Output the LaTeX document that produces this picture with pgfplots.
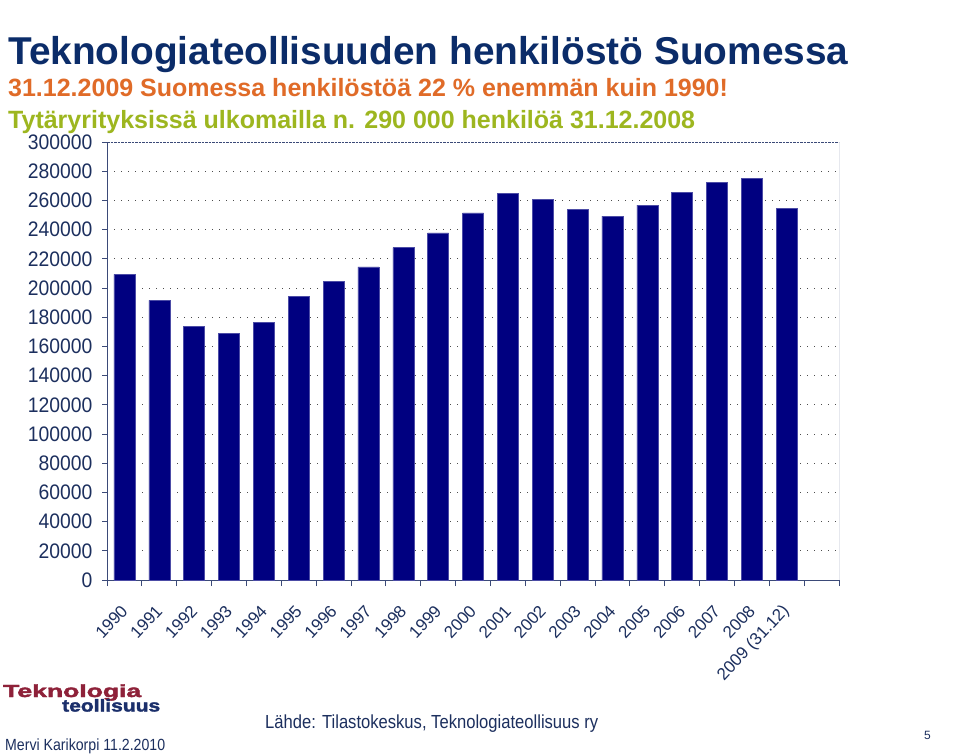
\documentclass[border=0pt]{standalone}
\usepackage{fontspec}
\setmainfont{Liberation Sans}
\newfontfamily\logofont[FakeBold=2]{Liberation Sans Bold}
\newfontfamily\ynarrow[FakeStretch=0.92]{Liberation Sans}
\usepackage{graphicx}
\usepackage{pgfplots}
\pgfplotsset{compat=1.18}
\definecolor{titleblue}{HTML}{0B2C69}
\definecolor{orangeT}{HTML}{E06B28}
\definecolor{greenT}{HTML}{9DB61F}
\definecolor{barblue}{HTML}{000080}
\definecolor{axisblue}{HTML}{3B4A78}
\definecolor{labblue}{HTML}{1C2F5E}
\definecolor{logored}{HTML}{8E2139}
\definecolor{logoblue}{HTML}{1B2F6B}
\begin{document}
\begin{tikzpicture}[x=1pt,y=1pt]
\useasboundingbox (0,0) rectangle (960,755);
\fill[white] (0,0) rectangle (960,755);
\node[anchor=base west, inner sep=0, text=titleblue, font=\fontsize{38.8}{40}\selectfont\bfseries] at (8,690) {Teknologiateollisuuden henkilöstö Suomessa};
\node[anchor=base west, inner sep=0, text=orangeT, font=\fontsize{25}{26}\selectfont\bfseries] at (8,658) {31.12.2009 Suomessa henkilöstöä 22 \% enemmän kuin 1990!};
\node[anchor=base west, inner sep=0, text=greenT, font=\fontsize{25}{26}\selectfont\bfseries] at (8,626) {Tytäryrityksissä ulkomailla n. 290 000 henkilöä 31.12.2008};
\begin{axis}[
  at={(107pt,175pt)}, anchor=south west, scale only axis,
  width=732pt, height=438pt,
  xmin=-0.5, xmax=20.5, ymin=0, ymax=300000,
  ybar, bar width=21pt,
  ytick={0,20000,...,300000},
  scaled y ticks=false,
  yticklabel style={/pgf/number format/fixed, /pgf/number format/1000 sep={}, font=\ynarrow\fontsize{21}{21}\selectfont, text=labblue, xshift=-6pt},
  /pgf/number format/assume math mode=true,
  ymajorgrids,
  grid style={dash pattern=on 1.4pt off 5.6pt, color=black!70, line width=0.9pt},
  axis x line*=bottom, axis y line*=left,
  axis line style={axisblue, line width=0.8pt},
  tick align=outside,
  major tick length=5pt, minor tick length=6pt,
  tick style={axisblue, line width=0.8pt},
  xtick={0,...,19},
  xticklabels={1990,1991,1992,1993,1994,1995,1996,1997,1998,1999,2000,2001,2002,2003,2004,2005,2006,2007,2008,2009 (31.12)},
  major x tick style={draw=none},
  minor xtick={-0.5,0.5,...,20.5},
  xticklabel style={xshift=0pt, yshift=-23pt, rotate=47, anchor=east, inner sep=0pt, font=\fontsize{17}{17}\selectfont, text=labblue},
]
\addplot[fill=barblue, draw=barblue!70!white, line width=0.5pt] coordinates {
(0,209400) (1,191600) (2,173800) (3,169000) (4,176700) (5,194500) (6,204600) (7,214400) (8,227600) (9,237700)
(10,251400) (11,264700) (12,260600) (13,253700) (14,249200) (15,256700) (16,265400) (17,272500) (18,275300) (19,254700)};
\draw[axisblue, line width=0.8pt] (rel axis cs:1,0) -- (rel axis cs:1,1);
\draw[axisblue, line width=0.9pt, dash pattern=on 2.5pt off 1pt] (rel axis cs:0,1) -- (rel axis cs:1,1);
\end{axis}
\node[anchor=base west, inner sep=0, text=logored] at (3,58) {\resizebox{138pt}{12.7pt}{\logofont Teknologia}};
\node[anchor=base west, inner sep=0, text=logoblue] at (62,43.5) {\resizebox{98pt}{12.4pt}{\logofont teollisuus}};
\node[anchor=base west, inner sep=0, text=labblue] at (5,5) {\resizebox{160pt}{11.7pt}{Mervi Karikorpi 11.2.2010}};
\node[anchor=base west, inner sep=0, text=labblue] at (265,26.5) {\resizebox{333pt}{13.7pt}{Lähde: Tilastokeskus, Teknologiateollisuus ry}};
\node[anchor=base west, inner sep=0, text=labblue, font=\fontsize{12}{12}\selectfont] at (924,16) {5};
\end{tikzpicture}
\end{document}
